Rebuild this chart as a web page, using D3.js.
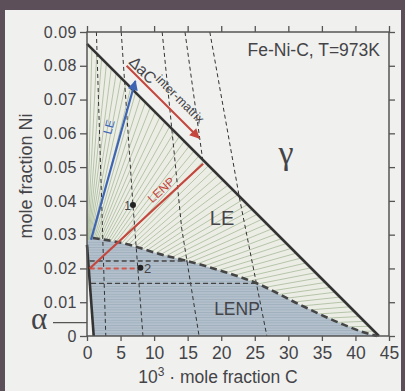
<!DOCTYPE html>
<html>
<head>
<meta charset="utf-8">
<script src="https://cdn.jsdelivr.net/npm/d3@7"></script>
<style>
  body { margin: 0; background: #5d4f5a; }
  svg { display: block; }
  text { font-family: "Liberation Sans", Arial, sans-serif; fill: #444448; }
</style>
</head>
<body>
<div id="chart"></div>
<script>
// ---- data ----
var xTicks = [0, 5, 10, 15, 20, 25, 30, 35, 40, 45];
var yTicks = [0, 0.01, 0.02, 0.03, 0.04, 0.05, 0.06, 0.07, 0.08, 0.09];

var gammaBoundary = [[0, 0.0865], [43.5, 0]];
var alphaBoundary = [[0, 0.027], [1.0, 0]];
var lenpBoundary = [[0.87, 0.029], [4.86, 0.0277], [11.3, 0.0240], [15.3, 0.0220],
  [19.5, 0.0196], [25.3, 0.0156], [31.8, 0.0092], [37.7, 0.0038], [41.7, 0.0008], [43.2, 0]];

// iso-activity lines (thin dashed)
var isoCarbon = [
  [[1.4, 0.09], [2.8, 0]],
  [[5.1, 0.09], [6.85, 0.0388], [8.34, 0]],
  [[11.2, 0.09], [14.1, 0.032], [16.7, 0]],
  [[14.6, 0.09], [17.3, 0.0513]],
  [[18.3, 0.09], [22.8, 0.040], [26.8, 0]]
];
var isoNickel = [
  [[0.4, 0.0222], [15.0, 0.0222]],
  [[0.6, 0.0156], [25.3, 0.0156]]
];

var point1 = [6.85, 0.0388];
var point2 = [7.95, 0.0202];
var leArrow = [[0.6, 0.0285], [7.2, 0.0755]];
var lenpPath = [[0.4, 0.020], [17.3, 0.0510]];
var lenpDash = [[0.4, 0.020], [7.95, 0.020]];
var drivingArrow = [[5.9, 0.0800], [16.7, 0.0586]];
var tieLineCount = 60;

// ---- layout ----
var width = 405, height = 391;
var plotLeft = 87, plotRight = 389, plotTop = 32, plotBottom = 336;

var svg = d3.select("#chart").append("svg")
  .attr("width", width)
  .attr("height", height);

svg.append("rect")
  .attr("x", 5).attr("y", 10)
  .attr("width", 396).attr("height", 381)
  .attr("fill", "#f0f0ee");

var x = d3.scaleLinear().domain([0, 45]).range([plotLeft, plotRight]);
var y = d3.scaleLinear().domain([0, 0.09]).range([plotBottom, plotTop]);
var line = d3.line().x(function (d) { return x(d[0]); }).y(function (d) { return y(d[1]); });
var curve = d3.line().x(function (d) { return x(d[0]); }).y(function (d) { return y(d[1]); }).curve(d3.curveMonotoneX);

var defs = svg.append("defs");

var hatch = defs.append("pattern")
  .attr("id", "hatch")
  .attr("patternUnits", "userSpaceOnUse")
  .attr("width", 8).attr("height", 2.6);
hatch.append("rect").attr("width", 8).attr("height", 2.6).attr("fill", "#b4c1cd");
hatch.append("line").attr("x1", 0).attr("x2", 8).attr("y1", 0.5).attr("y2", 0.5)
  .attr("stroke", "#9aabb9").attr("stroke-width", 0.8);

function marker(id, color) {
  defs.append("marker")
    .attr("id", id)
    .attr("viewBox", "0 0 10 10")
    .attr("refX", 9).attr("refY", 5)
    .attr("markerUnits", "userSpaceOnUse")
    .attr("markerWidth", 12).attr("markerHeight", 10)
    .attr("orient", "auto")
    .append("path").attr("d", "M0,0 L10,5 L0,10 z").attr("fill", color);
}
marker("redHead", "#c4463c");
marker("blueHead", "#3e64b4");

// LE region (between gamma boundary and LENP boundary)
var lePoly = [gammaBoundary[0]].concat([gammaBoundary[1]], lenpBoundary.slice().reverse(), [[0, 0.028]]);
defs.append("clipPath").attr("id", "leClip")
  .append("path").attr("d", line(lePoly) + "Z");

svg.append("path")
  .attr("d", line(lePoly) + "Z")
  .attr("fill", "#eceee6");

// tie lines, alpha boundary -> gamma boundary
var ties = d3.range(1, tieLineCount).map(function (i) {
  var t = i / tieLineCount;
  var a = d3.interpolateArray(alphaBoundary[0], alphaBoundary[1])(t);
  var g = d3.interpolateArray(gammaBoundary[0], gammaBoundary[1])(t);
  return [a, g];
});
svg.append("g").attr("clip-path", "url(#leClip)")
  .selectAll("path").data(ties).enter().append("path")
  .attr("d", line)
  .attr("stroke", "#a3b694")
  .attr("stroke-width", 0.75)
  .attr("fill", "none");

// LENP region
var lenpPoly = [[0, 0.028]].concat(lenpBoundary, [alphaBoundary[1]], [alphaBoundary[0]]);
svg.append("path")
  .attr("d", line(lenpPoly) + "Z")
  .attr("fill", "url(#hatch)");

// iso lines
svg.selectAll(".isoC").data(isoCarbon).enter().append("path")
  .attr("class", "isoC")
  .attr("d", line)
  .attr("fill", "none")
  .attr("stroke", "#333")
  .attr("stroke-width", 1)
  .attr("stroke-dasharray", "4,3");

svg.selectAll(".isoNi").data(isoNickel).enter().append("path")
  .attr("class", "isoNi")
  .attr("d", line)
  .attr("fill", "none")
  .attr("stroke", "#444")
  .attr("stroke-width", 1.3)
  .attr("stroke-dasharray", "5,3");

// boundaries
svg.append("path").datum(lenpBoundary)
  .attr("d", curve)
  .attr("fill", "none")
  .attr("stroke", "#454545")
  .attr("stroke-width", 2.6)
  .attr("stroke-dasharray", "7,4");

svg.append("path").datum(gammaBoundary)
  .attr("d", line)
  .attr("fill", "none")
  .attr("stroke", "#333")
  .attr("stroke-width", 2.6);

svg.append("path").datum(alphaBoundary)
  .attr("d", line)
  .attr("fill", "none")
  .attr("stroke", "#333")
  .attr("stroke-width", 2.6);

// paths and arrows
svg.append("path").datum(lenpDash)
  .attr("d", line)
  .attr("stroke", "#d0574a").attr("stroke-width", 2)
  .attr("stroke-dasharray", "5,3").attr("fill", "none");

svg.append("path").datum(lenpPath)
  .attr("d", line)
  .attr("stroke", "#c4463c").attr("stroke-width", 2.2).attr("fill", "none");

svg.append("path").datum(drivingArrow)
  .attr("d", line)
  .attr("stroke", "#c4463c").attr("stroke-width", 2)
  .attr("fill", "none")
  .attr("marker-end", "url(#redHead)");

svg.append("path").datum(leArrow)
  .attr("d", line)
  .attr("stroke", "#3e64b4").attr("stroke-width", 2.2)
  .attr("fill", "none")
  .attr("marker-end", "url(#blueHead)");

svg.selectAll(".pt").data([point1, point2]).enter().append("circle")
  .attr("cx", function (d) { return x(d[0]); })
  .attr("cy", function (d) { return y(d[1]); })
  .attr("r", 3)
  .attr("fill", "#222");

// axes
var axisColor = "#555";
svg.append("rect")
  .attr("x", plotLeft).attr("y", plotTop)
  .attr("width", plotRight - plotLeft).attr("height", plotBottom - plotTop)
  .attr("fill", "none").attr("stroke", axisColor).attr("stroke-width", 1.5);

function styleAxis(g) {
  g.select(".domain").remove();
  g.selectAll(".tick line").attr("stroke", axisColor).attr("stroke-width", 1.3);
  g.selectAll("text").attr("fill", "#48484c");
}

svg.append("g").attr("transform", "translate(0," + plotBottom + ")")
  .call(d3.axisBottom(x).tickValues(xTicks).tickSize(5).tickPadding(6).tickFormat(d3.format("d")))
  .call(styleAxis)
  .selectAll("text").style("font-size", "17.5px");

svg.append("g").attr("transform", "translate(0," + plotTop + ")")
  .call(d3.axisTop(x).tickValues(xTicks).tickSize(6).tickFormat(""))
  .call(styleAxis);

svg.append("g").attr("transform", "translate(" + plotLeft + ",0)")
  .call(d3.axisLeft(y).tickValues(yTicks).tickSize(7).tickPadding(3)
    .tickFormat(function (d) { return d === 0 ? "0" : d3.format(".2f")(d); }))
  .call(styleAxis)
  .selectAll("text").style("font-size", "16px").style("letter-spacing", "0.5px");

svg.append("g").attr("transform", "translate(" + plotRight + ",0)")
  .call(d3.axisRight(y).tickValues(yTicks).tickSize(6).tickFormat(""))
  .call(styleAxis);

// axis titles
var xt = svg.append("text")
  .attr("x", 218).attr("y", 383)
  .attr("text-anchor", "middle")
  .style("font-size", "17.5px");
xt.append("tspan").text("10");
xt.append("tspan").attr("dy", -7).style("font-size", "12px").text("3");
xt.append("tspan").attr("dy", 7).text(" \u00b7 mole fraction C");

svg.append("text")
  .attr("transform", "translate(32,176) rotate(-90)")
  .attr("text-anchor", "middle")
  .style("font-size", "18px")
  .text("mole fraction Ni");

// alpha marker on the y axis
svg.append("line")
  .attr("x1", 53).attr("x2", plotLeft)
  .attr("y1", 322.7).attr("y2", 322.7)
  .attr("stroke", axisColor).attr("stroke-width", 1.3);
svg.append("text")
  .attr("x", 39).attr("y", 329)
  .attr("text-anchor", "middle")
  .style("font-family", "'Liberation Serif', serif")
  .style("font-size", "31px")
  .text("\u03b1");

// labels
svg.append("text")
  .attr("x", 380).attr("y", 56)
  .attr("text-anchor", "end")
  .style("font-size", "17.5px")
  .text("Fe-Ni-C, T=973K");

svg.append("text")
  .attr("x", 286).attr("y", 164)
  .attr("text-anchor", "middle")
  .style("font-family", "'Liberation Serif', serif")
  .style("font-size", "34px")
  .text("\u03b3");

svg.append("text")
  .attr("x", 222).attr("y", 225)
  .attr("text-anchor", "middle")
  .style("font-size", "20px")
  .text("LE");

svg.append("text")
  .attr("x", 237).attr("y", 315)
  .attr("text-anchor", "middle")
  .style("font-size", "17.5px")
  .text("LENP");

svg.append("text")
  .attr("x", 131).attr("y", 210)
  .attr("text-anchor", "end")
  .style("font-size", "12px")
  .text("1");

svg.append("text")
  .attr("x", 144).attr("y", 273)
  .style("font-size", "13px")
  .text("2");

svg.append("text")
  .attr("transform", "translate(113,128) rotate(-75)")
  .attr("text-anchor", "middle")
  .style("font-size", "12px")
  .style("fill", "#3e64b4")
  .text("LE");

svg.append("text")
  .attr("transform", "translate(164,193) rotate(-42)")
  .attr("text-anchor", "middle")
  .style("font-size", "12px")
  .style("fill", "#c4463c")
  .text("LENP");

var da = svg.append("text")
  .attr("transform", "translate(128,63) rotate(45)")
  .style("font-size", "16px");
da.append("tspan").text("\u0394aC");
da.append("tspan").attr("dy", -7).style("font-size", "12.5px").text("inter-matrix");
</script>
</body>
</html>
